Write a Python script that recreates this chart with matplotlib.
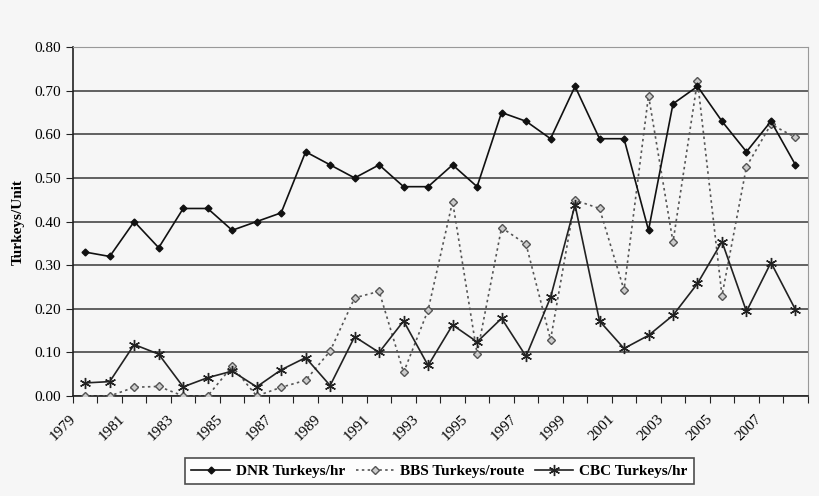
import numpy as np
import matplotlib
matplotlib.use("Agg")
import matplotlib.pyplot as plt
from matplotlib.transforms import ScaledTranslation

plt.rcParams['font.family'] = ['Liberation Serif', 'DejaVu Serif']

years = list(range(1979, 2009))
dnr = [0.33, 0.32, 0.40, 0.34, 0.43, 0.43, 0.38, 0.40, 0.42, 0.56,
       0.53, 0.50, 0.53, 0.48, 0.48, 0.53, 0.48, 0.65, 0.63, 0.59,
       0.71, 0.59, 0.59, 0.38, 0.67, 0.71, 0.63, 0.56, 0.63, 0.53]
bbs = [0.00, 0.00, 0.020, 0.022, 0.00, 0.00, 0.068, 0.00, 0.020, 0.036,
       0.103, 0.225, 0.240, 0.054, 0.197, 0.446, 0.097, 0.386, 0.348, 0.129,
       0.449, 0.430, 0.243, 0.689, 0.353, 0.723, 0.230, 0.526, 0.623, 0.593]
cbc = [0.030, 0.033, 0.118, 0.096, 0.021, 0.042, 0.057, 0.021, 0.060, 0.088,
       0.024, 0.136, 0.100, 0.172, 0.070, 0.163, 0.124, 0.178, 0.091, 0.226,
       0.438, 0.172, 0.109, 0.139, 0.185, 0.258, 0.354, 0.194, 0.306, 0.198]

bg = '#f6f6f6'
fig = plt.figure(figsize=(8.2, 4.96), dpi=100, facecolor=bg)
ax = fig.add_axes([0.089, 0.2016, 0.896, 0.7034], facecolor=bg)

x = np.arange(len(years))

ax.plot(x, dnr, color='#111111', lw=1.2, marker='D', ms=3.5,
        mfc='#111111', mec='#111111', label='DNR Turkeys/hr', zorder=4)
ax.plot(x, bbs, color='#555555', lw=1.2, ls=(0, (1.5, 2)), marker='D', ms=3.8,
        mfc='#cccccc', mec='#555555', mew=1, label='BBS Turkeys/route', zorder=3)
ax.plot(x, cbc, color='#222222', lw=1.2, marker=(6, 2, 0), ms=8, mew=1,
        label='CBC Turkeys/hr', zorder=4)

ax.set_xlim(-0.5, len(years) - 0.5)
ax.set_ylim(0, 0.8)
ax.set_yticks(np.arange(0, 0.81, 0.1))
ax.set_yticklabels([f'{v:.2f}' for v in np.arange(0, 0.81, 0.1)], fontsize=11)
ax.yaxis.grid(True, color='#555555', lw=1.3)
ax.set_axisbelow(True)

# tick marks at category boundaries, labels every other year
ax.set_xticks(np.arange(-0.5, len(years), 1))
ax.set_xticklabels([])
ax.tick_params(axis='x', which='major', direction='out', length=5, color='#222222')
ax.set_xticks(x[::2], minor=True)
ax.set_xticklabels([str(y) for y in years[::2]], minor=True, rotation=45,
                   ha='right', rotation_mode='anchor', fontsize=11)
ax.tick_params(axis='x', which='minor', length=0, pad=12)
for lbl in ax.get_xticklabels(minor=True):
    lbl.set_transform(lbl.get_transform() + ScaledTranslation(-0.16, 0, fig.dpi_scale_trans))
ax.tick_params(axis='y', direction='out', length=5, color='#222222')

for s in ['top', 'right']:
    ax.spines[s].set_color('#999999')
for s in ['left', 'bottom']:
    ax.spines[s].set_color('#222222')
    ax.spines[s].set_linewidth(1.2)

ax.set_ylabel('Turkeys/Unit', fontsize=11, fontweight='bold', labelpad=7)

leg = fig.legend(loc='center', bbox_to_anchor=(0.536, 0.05), ncol=3,
                 frameon=True, fancybox=False, edgecolor='#222222',
                 facecolor='white', prop={'weight': 'bold', 'size': 11},
                 handlelength=2.5, columnspacing=0.7, handletextpad=0.4,
                 borderpad=0.4)
leg.get_frame().set_linewidth(1.2)

fig.savefig('out.png', dpi=100, facecolor=bg)
